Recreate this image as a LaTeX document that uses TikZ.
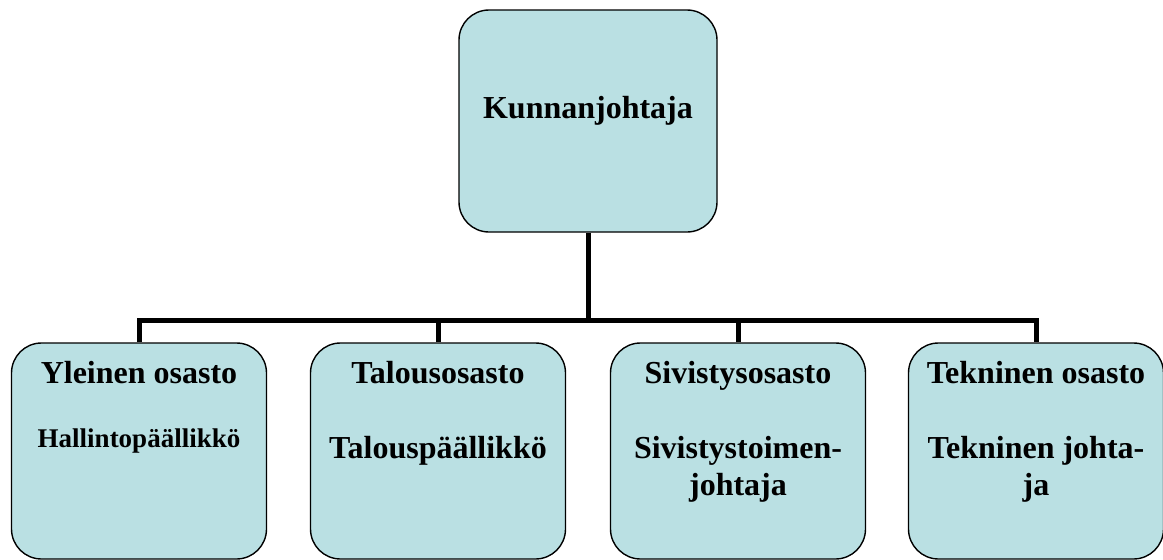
\documentclass[tikz,border=0pt]{standalone}
\usepackage{fontspec}
\setmainfont{Liberation Serif}
\definecolor{boxfill}{RGB}{186,224,227}
\begin{document}
\begin{tikzpicture}[x=1pt,y=-1pt,
  orgbox/.style={draw=black, line width=1.4pt, fill=boxfill, rounded corners=30pt,
    inner sep=0pt, minimum width=255pt},
  topbox/.style={orgbox, minimum width=258pt, minimum height=222pt},
  deptbox/.style={orgbox, minimum height=216pt},
  conn/.style={draw=black, line width=5pt, line join=miter},
  lbl/.style={anchor=base, inner sep=0pt, font=\bfseries\fontsize{32}{37}\selectfont},
  lblsmall/.style={anchor=base, inner sep=0pt, font=\bfseries\fontsize{27}{32}\selectfont}
]
\useasboundingbox (0,0) rectangle (1163,560);
\fill[white] (0,0) rectangle (1163,560);

\node[topbox] (top) at (588,121) {};
\node[deptbox] (b1) at (139,451) {};
\node[deptbox] (b2) at (438,451) {};
\node[deptbox] (b3) at (738,451) {};
\node[deptbox] (b4) at (1036,451) {};

\coordinate (bar) at (588,320);
\draw[conn] (top.south) -- (bar);
\draw[conn] (b1.north) |- (bar) -| (b4.north);
\draw[conn] (b2.north) -- (b2.north |- bar);
\draw[conn] (b3.north) -- (b3.north |- bar);

\node[lbl] (t0) at (588,118) {Kunnanjohtaja};
\node[lbl] (t1a) at (139,383) {Yleinen osasto};
\node[lblsmall] (t1b) at (139,447) {Hallintopäällikkö};
\node[lbl] (t2a) at (438,383) {Talousosasto};
\node[lbl] (t2b) at (438,458) {Talouspäällikkö};
\node[lbl] (t3a) at (738,383) {Sivistysosasto};
\node[lbl] (t3b) at (738,458) {Sivistystoimen-};
\node[lbl] (t3c) at (738,495) {johtaja};
\node[lbl] (t4a) at (1036,383) {Tekninen osasto};
\node[lbl] (t4b) at (1036,458) {Tekninen johta-};
\node[lbl] (t4c) at (1036,495) {ja};
\end{tikzpicture}
\end{document}
